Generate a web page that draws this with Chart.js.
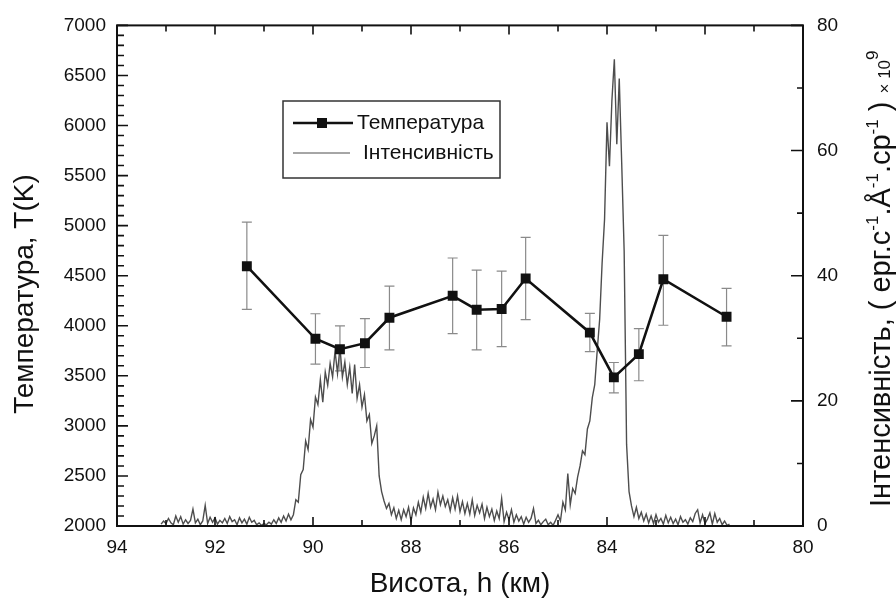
<!DOCTYPE html>
<html>
<head>
<meta charset="utf-8">
<script src="https://cdn.jsdelivr.net/npm/chart.js@4.4.1/dist/chart.umd.min.js"></script>
<style>
  body { margin: 0; background: #fff; }
  #wrap { width: 896px; height: 599px; }
</style>
</head>
<body>
<div id="wrap"><canvas id="tempChart"></canvas></div>
<script>
// Temperature, T(K) vs height h (km) -- left axis
const heights = [91.35, 89.95, 89.45, 88.94, 88.44, 87.15, 86.66, 86.15, 85.66, 84.35, 83.86, 83.35, 82.85, 81.56];
const temps   = [4595, 3870, 3766, 3826, 4080, 4299, 4160, 4167, 4472, 3931, 3484, 3717, 4465, 4090];
const tempHi  = [5035, 4120, 3998, 4071, 4396, 4677, 4555, 4545, 4883, 4124, 3633, 3971, 4903, 4373];
const tempLo  = [4164, 3617, 3550, 3583, 3759, 3921, 3759, 3792, 4061, 3742, 3329, 3451, 4005, 3799];

// Intensity (right axis), every 0.05 km from 93.10 km down to 81.50 km
const intensityStart = 93.10;
const intensityStep = 0.05;
const intensity = [
  0.3, 0.8, 0.4, 1.2, 0.5, 0.2, 1.6, 0.6, 1.5, 0.3,
  1.0, 0.4, 0.9, 2.7, 0.5, 1.1, 0.2, 0.8, 3.3, 0.4,
  1.4, 0.6, 1.3, 0.3, 0.9, 0.5, 1.2, 0.4, 1.5, 0.7,
  1.0, 0.2, 1.3, 0.5, 1.1, 0.3, 1.4, 0.6, 0.9, 0.2,
  0.5, 0.1, 0.4, 0.2, 0.6, 0.3, 1.0, 0.4, 1.3, 0.6,
  1.6, 0.8, 1.9, 1.0, 1.8, 4.2, 3.8, 8.2, 9.0, 13.6,
  12.2, 17.0, 15.8, 20.6, 19.4, 23.4, 19.8, 24.6, 22.5, 26.0,
  23.8, 28.0, 24.4, 28.6, 23.8, 26.2, 22.6, 25.4, 21.2, 25.8,
  20.4, 22.6, 19.0, 21.0, 16.8, 17.8, 13.2, 14.4, 16.0, 8.0,
  5.5, 4.0, 2.8, 3.6, 1.8, 2.9, 1.2, 2.5, 1.0, 2.6,
  1.5, 3.0, 0.8, 2.9, 1.8, 3.8, 2.2, 4.6, 2.8, 5.2,
  3.0, 4.3, 2.6, 5.4, 3.4, 4.8, 3.1, 4.2, 2.4, 4.5,
  2.7, 4.8, 2.3, 3.9, 2.0, 3.6, 1.9, 4.2, 1.7, 3.3,
  2.1, 3.5, 1.2, 3.0, 1.5, 2.7, 0.9, 2.4, 1.2, 4.4,
  0.7, 2.2, 1.0, 2.6, 0.6, 1.8, 0.8, 1.5, 0.3, 1.4,
  0.6, 1.2, 2.8, 0.4, 0.9, 0.2, 0.7, 1.1, 0.2, 0.6,
  0.1, 0.9, 1.8, 0.8, 3.8, 2.6, 8.4, 3.4, 6.0, 5.2,
  7.8, 9.6, 12.0, 11.4, 15.5, 16.8, 20.5, 22.6, 28.0, 33.0,
  42.0, 49.0, 64.5, 57.5, 68.0, 74.6, 61.0, 71.5, 58.0, 44.0,
  13.0, 5.5, 3.2, 1.5, 3.0, 1.2, 2.2, 0.8, 1.9, 0.5,
  1.6, 0.4, 1.8, 0.6, 1.2, 0.3, 1.7, 0.5, 1.4, 0.4,
  1.1, 0.2, 1.5, 0.6, 1.0, 0.3, 1.3, 0.7, 2.0, 2.6,
  0.5, 1.8, 0.4, 1.1, 2.1, 0.3, 2.0, 0.6, 1.2, 0.2,
  0.8, 0.1, 0.3
];

const xTicks = [94, 92, 90, 88, 86, 84, 82, 80];
const legendLabels = ['Температура', 'Інтенсивність'];

const FONT = "'Liberation Sans', Arial, sans-serif";
const ink = '#111';

const tempPoints = heights.map((h, i) => ({ x: h, y: temps[i] }));
const intensityPoints = intensity.map((v, i) => ({ x: +(intensityStart - i * intensityStep).toFixed(2), y: v }));

// white page, frame, inward ticks
const framePlugin = {
  id: 'frame',
  beforeDraw(chart) {
    const c = chart.ctx;
    c.save();
    c.fillStyle = '#fff';
    c.fillRect(0, 0, chart.width, chart.height);
    c.restore();
  },
  afterDatasetsDraw(chart) {
    const c = chart.ctx;
    const { left, right, top, bottom } = chart.chartArea;
    const sx = chart.scales.x, sy = chart.scales.y, sy1 = chart.scales.y1;
    c.save();
    c.strokeStyle = ink;
    c.lineWidth = 1.6;
    c.beginPath();
    for (let v = 80; v <= 94; v++) {
      const px = sx.getPixelForValue(v);
      const len = v % 2 === 0 ? 9 : 6;
      c.moveTo(px, bottom); c.lineTo(px, bottom - len);
      c.moveTo(px, top); c.lineTo(px, top + len);
    }
    for (let v = 2000; v <= 7000; v += 100) {
      const py = sy.getPixelForValue(v);
      const len = v % 500 === 0 ? 11 : 7;
      c.moveTo(left, py); c.lineTo(left + len, py);
    }
    for (let v = 0; v <= 80; v += 10) {
      const py = sy1.getPixelForValue(v);
      const len = v % 20 === 0 ? 12 : 6;
      c.moveTo(right, py); c.lineTo(right - len, py);
    }
    c.stroke();
    c.lineWidth = 2;
    c.strokeRect(left, top, right - left, bottom - top);
    c.restore();
  }
};

// grey error bars on the temperature points
const errorBarPlugin = {
  id: 'errorBars',
  beforeDatasetsDraw(chart) {
    const c = chart.ctx;
    const sx = chart.scales.x, sy = chart.scales.y;
    c.save();
    c.strokeStyle = '#8a8a8a';
    c.lineWidth = 1.2;
    c.beginPath();
    heights.forEach((h, i) => {
      const px = sx.getPixelForValue(h);
      const y1 = sy.getPixelForValue(tempHi[i]);
      const y2 = sy.getPixelForValue(tempLo[i]);
      c.moveTo(px, y1); c.lineTo(px, y2);
      c.moveTo(px - 5, y1); c.lineTo(px + 5, y1);
      c.moveTo(px - 5, y2); c.lineTo(px + 5, y2);
    });
    c.stroke();
    c.restore();
  }
};

// legend box and axis titles
const textPlugin = {
  id: 'texts',
  afterDraw(chart) {
    const c = chart.ctx;
    c.save();
    // legend
    c.strokeStyle = '#333';
    c.lineWidth = 1.5;
    c.strokeRect(283, 101, 217, 77);
    c.strokeStyle = ink;
    c.lineWidth = 2.6;
    c.beginPath(); c.moveTo(293, 123); c.lineTo(353, 123); c.stroke();
    c.fillStyle = ink;
    c.fillRect(317, 118, 10, 10);
    c.strokeStyle = '#4d4d4d';
    c.lineWidth = 1;
    c.beginPath(); c.moveTo(293, 153); c.lineTo(350, 153); c.stroke();
    c.fillStyle = ink;
    c.font = '21px ' + FONT;
    c.textBaseline = 'middle';
    c.textAlign = 'left';
    c.fillText(legendLabels[0], 357, 123);
    c.fillText(legendLabels[1], 363, 153);

    // x title
    c.font = '28px ' + FONT;
    c.textAlign = 'center';
    c.fillText('Висота, h (км)', 460, 584);

    // left title
    c.save();
    c.translate(25, 294);
    c.rotate(-Math.PI / 2);
    c.fillText('Температура, T(K)', 0, 0);
    c.restore();

    // right title with superscripts, reading bottom to top
    const segs = [
      { t: 'Інтенсивність, ( ерг.с', f: 29, dy: 0 },
      { t: '-1', f: 17, dy: -12 },
      { t: '.Å', f: 29, dy: 0 },
      { t: '-1', f: 17, dy: -12 },
      { t: '.ср', f: 29, dy: 0 },
      { t: '-1', f: 17, dy: -12 },
      { t: ' ) ', f: 29, dy: 0 },
      { t: '× 10', f: 17, dy: 0 },
      { t: '9', f: 17, dy: -12 }
    ];
    c.save();
    c.translate(890, 507);
    c.rotate(-Math.PI / 2);
    c.textAlign = 'left';
    c.textBaseline = 'alphabetic';
    let pos = 0;
    segs.forEach(s => {
      c.font = s.f + 'px ' + FONT;
      c.fillText(s.t, pos, s.dy);
      pos += c.measureText(s.t).width;
    });
    c.restore();
    c.restore();
  }
};

const tickFont = { size: 19, family: FONT };

new Chart(document.getElementById('tempChart').getContext('2d'), {
  type: 'line',
  data: {
    datasets: [{
      label: legendLabels[0],
      data: tempPoints,
      yAxisID: 'y',
      borderColor: ink,
      borderWidth: 2.6,
      pointStyle: 'rect',
      pointRadius: 7,
      pointBorderWidth: 0,
      pointBackgroundColor: ink,
      order: 0
    }, {
      label: legendLabels[1],
      data: intensityPoints,
      yAxisID: 'y1',
      borderColor: '#4d4d4d',
      borderWidth: 1.4,
      pointRadius: 0,
      order: 1
    }]
  },
  options: {
    responsive: true,
    maintainAspectRatio: false,
    animation: false,
    layout: { padding: { top: 23, left: 0, right: 0, bottom: 0 } },
    scales: {
      x: {
        type: 'linear',
        reverse: true,
        min: 80, max: 94,
        afterBuildTicks: s => { s.ticks = xTicks.map(v => ({ value: v })); },
        ticks: { font: tickFont, color: ink, padding: 10, callback: v => String(v) },
        grid: { display: false, drawTicks: false },
        border: { display: false },
        afterFit: s => { s.height = 73; }
      },
      y: {
        position: 'left',
        min: 2000, max: 7000,
        ticks: { stepSize: 500, font: tickFont, color: ink, padding: 11, callback: v => String(v) },
        grid: { display: false, drawTicks: false },
        border: { display: false },
        afterFit: s => { s.width = 117; }
      },
      y1: {
        position: 'right',
        min: 0, max: 80,
        ticks: { stepSize: 20, font: tickFont, color: ink, padding: 14, callback: v => String(v) },
        grid: { display: false, drawTicks: false },
        border: { display: false },
        afterFit: s => { s.width = 93; }
      }
    },
    plugins: {
      legend: { display: false },
      tooltip: { enabled: false }
    }
  },
  plugins: [framePlugin, errorBarPlugin, textPlugin]
});
</script>
</body>
</html>
